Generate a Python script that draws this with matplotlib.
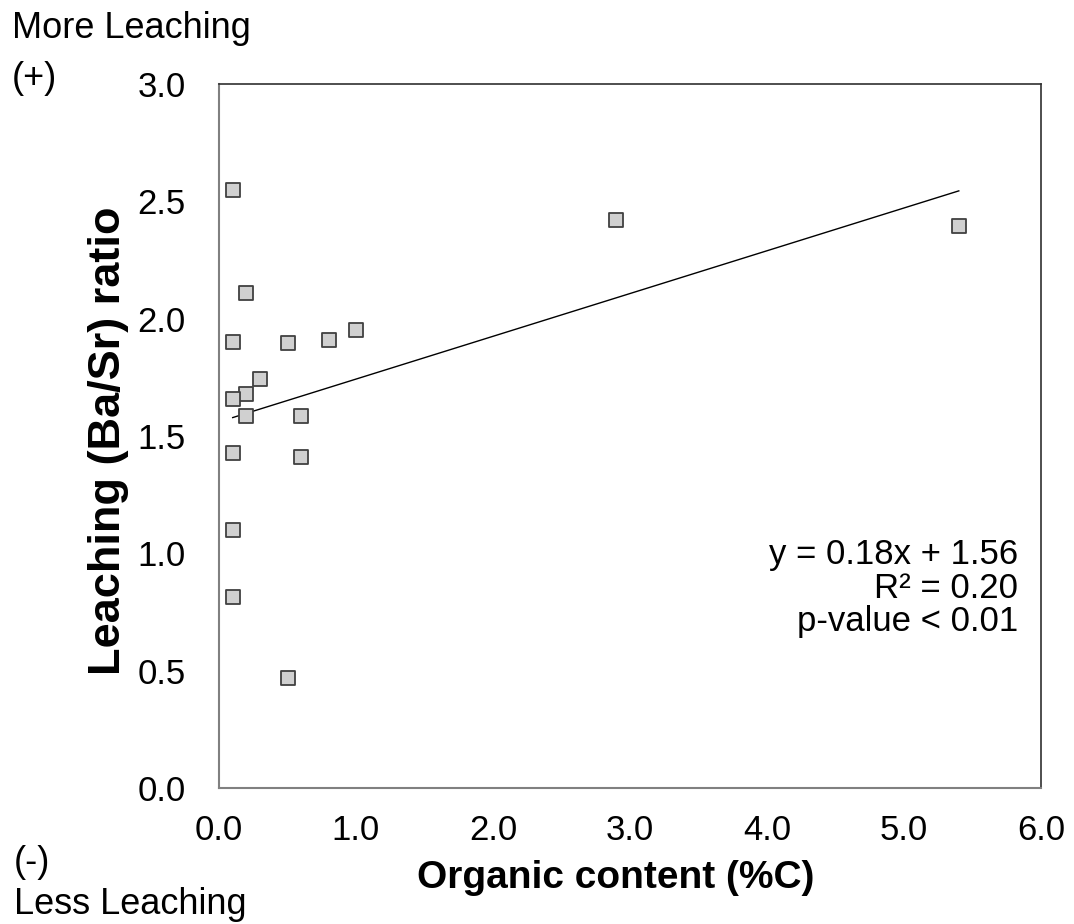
import matplotlib
matplotlib.use("Agg")
import matplotlib.pyplot as plt
import numpy as np

plt.rcParams['font.family'] = ['Liberation Sans', 'DejaVu Sans']

# organic content (%C) and leaching ratio (Ba/Sr)
organic_c = [0.1, 0.2, 0.1, 0.5, 0.8, 1.0, 0.3, 0.2, 0.1, 0.2, 0.6, 0.1, 0.6,
             0.1, 0.1, 0.5, 2.9, 5.4]
ba_sr = [2.55, 2.11, 1.90, 1.895, 1.91, 1.95, 1.745, 1.68, 1.656, 1.586, 1.585,
         1.426, 1.41, 1.10, 0.815, 0.467, 2.42, 2.395]

xticks = [0, 1, 2, 3, 4, 5, 6]
yticks = [0, 0.5, 1.0, 1.5, 2.0, 2.5, 3.0]
stats_text = "y = 0.18x + 1.56\nR\u00b2 = 0.20\np-value < 0.01"

fig = plt.figure(figsize=(10.74, 9.24), dpi=100)
ax = fig.add_axes([219/1074, 1 - 788/924, 822/1074, 704/924])

ax.scatter(organic_c, ba_sr, marker='s', s=110, facecolor='#d0d0d0',
           edgecolor='#404040', linewidth=1.3, zorder=3)

# linear trend line over the data range
slope, intercept = np.polyfit(organic_c, ba_sr, 1)
xfit = np.array([min(organic_c), max(organic_c)])
ax.plot(xfit, slope * xfit + intercept, color='black', linewidth=1.0, zorder=2)

ax.set_xlim(0, 6)
ax.set_ylim(0, 3)
ax.set_xticks(xticks)
ax.set_yticks(yticks)
ax.set_xticklabels(["{:.1f}".format(v) for v in xticks])
ax.set_yticklabels(["{:.1f}".format(v) for v in yticks])
ax.tick_params(axis='both', length=0, labelsize=25)
ax.tick_params(axis='x', pad=19)
ax.tick_params(axis='y', pad=24)

for side in ['left', 'bottom']:
    ax.spines[side].set_color('#808080')
    ax.spines[side].set_linewidth(1.5)
for side in ['top', 'right']:
    ax.spines[side].set_color('#303030')
    ax.spines[side].set_linewidth(1.2)

ax.set_xlabel('Organic content (%C)', fontsize=28, fontweight='bold')
ax.xaxis.label.set_va('center')
ax.xaxis.set_label_coords(0.482, -0.128)
ax.set_ylabel('Leaching (Ba/Sr) ratio', fontsize=32.5, fontweight='bold')
ax.yaxis.label.set_va('center')
ax.yaxis.set_label_coords(-0.134, 0.493)

ax.text(0.972, 0.284, stats_text, transform=ax.transAxes, ha='right', va='center',
        fontsize=25, linespacing=1.02)

fig.text(12/1074, 1 - 28/924, 'More Leaching', fontsize=26, ha='left', va='center')
fig.text(12/1074, 1 - 78/924, '(+)', fontsize=26, ha='left', va='center')
fig.text(14/1074, 1 - 862/924, '(-)', fontsize=26, ha='left', va='center')
fig.text(14/1074, 1 - 905/924, 'Less Leaching', fontsize=26, ha='left', va='center')

fig.savefig('out.png', dpi=100)
